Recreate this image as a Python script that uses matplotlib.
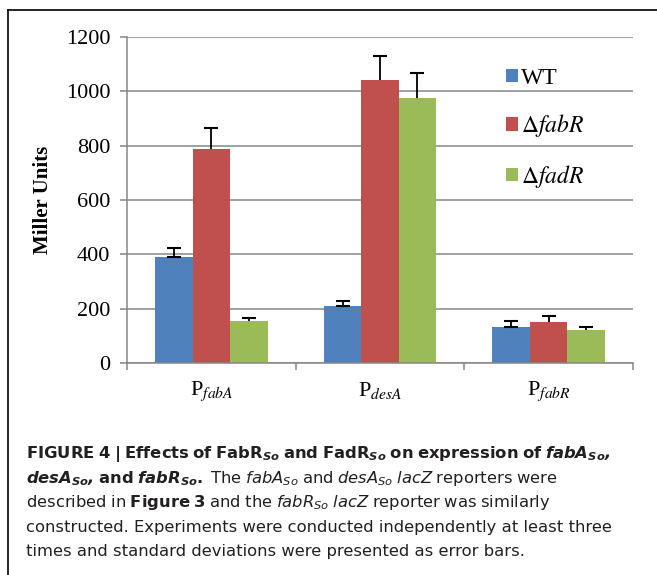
import numpy as np
import matplotlib as mpl
mpl.use('Agg')
import matplotlib.pyplot as plt
from matplotlib.font_manager import FontProperties
from matplotlib.lines import Line2D

# data
promoters = ['fabA', 'desA', 'fabR']
strains = ['WT', r'$\Delta\mathit{fabR}$', r'$\Delta\mathit{fadR}$']
wt = [389, 211, 132]
wt_err = [33, 16, 23]
fabr = [786, 1043, 152]
fabr_err = [80, 87, 22]
fadr = [153, 977, 122]
fadr_err = [12, 91, 10]
yticks = [0, 200, 400, 600, 800, 1000, 1200]
colors = ['#4f81bd', '#c0504d', '#9bbb59']

capfont = 'DejaVu Sans'
plt.rcParams['mathtext.fontset'] = 'custom'
plt.rcParams['mathtext.rm'] = capfont
plt.rcParams['mathtext.it'] = capfont + ':italic'
plt.rcParams['mathtext.bf'] = capfont + ':bold'
plt.rcParams['mathtext.bfit'] = capfont + ':italic:bold'

grey = '#868686'
fig = plt.figure(figsize=(6.57, 5.75), dpi=100)
ax = fig.add_axes([127/657, 1 - 363/575, 506/657, 326/575])

x = np.arange(len(promoters))
w = 1 / 4.5
series = [(wt, wt_err), (fabr, fabr_err), (fadr, fadr_err)]
for i, (vals, errs) in enumerate(series):
    pos = x + (i - 1) * w
    vals = np.array(vals)
    errs = np.array(errs)
    ax.bar(pos, vals, w, color=colors[i], linewidth=0, label=strains[i], zorder=2)
    ax.errorbar(pos, vals, yerr=[np.zeros_like(errs), errs], fmt='none',
                ecolor='black', elinewidth=1.3, capsize=0, zorder=3)
    ax.plot(pos, vals + errs, ls='none', marker='_', ms=10, mew=1.5,
            color='black', zorder=3)
    if i == 0:
        ax.plot(pos, vals, ls='none', marker='_', ms=10, mew=1.5,
                color='black', zorder=3)

ax.set_xlim(-0.5, 2.5)
ax.set_ylim(0, 1200)
ax.set_yticks(yticks)
ax.yaxis.grid(True, color=grey, lw=1.1)
ax.set_axisbelow(True)
for s in ['top', 'right']:
    ax.spines[s].set_visible(False)
for s in ['left', 'bottom']:
    ax.spines[s].set_color(grey)
    ax.spines[s].set_linewidth(1.1)

serif = 'Liberation Serif'
ax.tick_params(axis='y', direction='out', length=5, width=1.1, color=grey, pad=7)
for lab in ax.get_yticklabels():
    lab.set_fontfamily(serif)
    lab.set_fontsize(16)

ax.set_xticks(x)
ax.set_xticks(np.arange(-0.5, 3, 1), minor=True)
ax.tick_params(axis='x', which='major', length=0, pad=12)
ax.tick_params(axis='x', which='minor', direction='out', length=5, width=1.1, color=grey)
xfont = FontProperties(family=serif, size=16, math_fontfamily='stix')
ax.set_xticklabels([r'P$_{\mathit{%s}}$' % p for p in promoters], fontproperties=xfont)

ax.set_ylabel('Miller Units', fontfamily=serif, fontweight='bold', fontsize=15, va='center')
ax.yaxis.set_label_coords(-84/506, 0.5)

lfont = FontProperties(family=serif, size=17, math_fontfamily='stix')
ax.legend(loc='upper left', bbox_to_anchor=(0.749, 0.906), frameon=False, prop=lfont,
          handlelength=0.5, handleheight=0.5, handletextpad=0.15,
          labelspacing=1.0, borderpad=0, borderaxespad=0)

# frame around the figure panel
fig.add_artist(Line2D([8/657, 8/657], [0, 1 - 10/575], color='black', lw=1.2))
fig.add_artist(Line2D([8/657, 1], [1 - 10/575, 1 - 10/575], color='black', lw=1.2))


def caption_line(runs):
    out = ''
    for text, style, sub in runs:
        words = text.split(' ')
        piece = r'\;'.join(r'\math%s{%s}' % (style, wd) if wd else '' for wd in words)
        if sub:
            out += '_{' + piece + '}'
        else:
            out += piece
    return '$' + out + '$'


caption = [
    [('FIGURE 4 | Effects of FabR', 'bf', False), ('So', 'bfit', True),
     (' and FadR', 'bf', False), ('So', 'bfit', True),
     (' on expression of ', 'bf', False), ('fabA', 'bfit', False),
     ('So', 'bfit', True), (',', 'bfit', False)],
    [('desA', 'bfit', False), ('So', 'bfit', True), (',', 'bfit', False),
     (' and ', 'bf', False), ('fabR', 'bfit', False), ('So', 'bfit', True),
     ('.', 'bf', False), (' The ', 'rm', False), ('fabA', 'it', False),
     ('So', 'it', True), (' and ', 'rm', False), ('desA', 'it', False),
     ('So', 'it', True), (' ', 'rm', False), ('lacZ', 'it', False),
     (' reporters were', 'rm', False)],
    [('described in ', 'rm', False), ('Figure 3', 'bf', False),
     (' and the ', 'rm', False), ('fabR', 'it', False), ('So', 'it', True),
     (' ', 'rm', False), ('lacZ', 'it', False),
     (' reporter was similarly', 'rm', False)],
]
plain = ['constructed. Experiments were conducted independently at least three',
         'times and standard deviations were presented as error bars.']

baselines = [458, 483, 507, 532, 556]
cap_kw = dict(fontfamily=capfont, fontsize=11.8, color='#231f20',
              ha='left', va='baseline')
for i, runs in enumerate(caption):
    fig.text(26/657, 1 - baselines[i]/575, caption_line(runs), **cap_kw)
for j, line in enumerate(plain):
    fig.text(26/657, 1 - baselines[3 + j]/575, line, **cap_kw)

fig.savefig('out.png', dpi=100)
